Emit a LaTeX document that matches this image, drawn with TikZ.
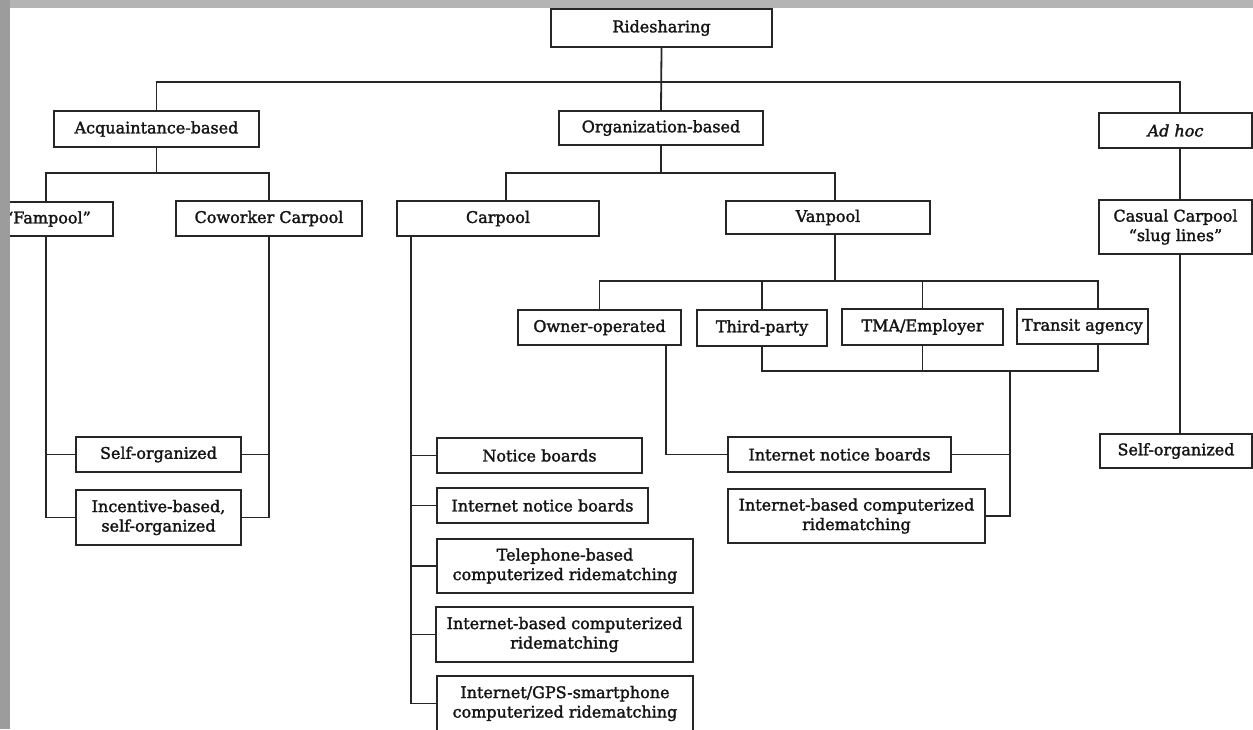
\documentclass[tikz,border=0pt]{standalone}
\usepackage{fontspec}
\setmainfont{DejaVu Serif}
\newfontfamily\labfont{DejaVu Serif}[FakeBold=1.8]
\usetikzlibrary{calc}
\definecolor{edge}{HTML}{262626}
\definecolor{ink}{HTML}{141414}
\definecolor{bandl}{HTML}{9C9C9C}
\definecolor{bandt}{HTML}{B4B4B4}
\tikzset{
  box/.style={draw=edge, line width=1.8pt, fill=white, inner sep=0pt, align=center,
    text=ink, font=\labfont\fontsize{16}{19.5}\selectfont},
  wire/.style={draw=edge, line width=1.8pt}
}
\newcommand{\bx}[6]{\node[box, minimum width=#4, minimum height=#5] (#1) at (#2,#3) {#6};}
\begin{document}
\begin{tikzpicture}[x=1pt,y=-1pt]
\useasboundingbox (0,0) rectangle (1253,729);
\clip (0,0) rectangle (1253,729);
\fill[white] (0,0) rectangle (1253,729);
\coordinate (busA) at (0,82);
\coordinate (busB) at (0,173);
\coordinate (busC) at (0,281);
\coordinate (busD) at (0,371);
\coordinate (jr) at (1010,371);
% boxes
\bx{ride}{661.5}{28}{221}{38}{Ridesharing}
\bx{acq}{156.5}{129}{205}{36}{Acquaintance-based}
\bx{org}{661}{128}{204}{34}{Organization-based}
\bx{adhoc}{1175.5}{130.5}{153}{35}{\itshape Ad hoc}
\bx{fam}{48}{219}{130}{34}{“Fampool”}
\bx{cow}{269}{218.5}{186}{35}{Coworker Carpool}
\bx{car}{498}{218.5}{202}{35}{Carpool}
\bx{van}{828}{217.5}{204}{33}{Vanpool}
\bx{cc}{1175.5}{227}{153}{54}{Casual Carpool\\“slug lines”}
\bx{own}{599.5}{327.5}{163}{35}{Owner-operated}
\bx{third}{762}{328}{130}{36}{Third-party}
\bx{tma}{922.5}{327}{161}{36}{TMA/Employer}
\bx{transit}{1082.5}{326.5}{131}{35}{Transit agency}
\bx{selfL}{158.5}{454.5}{165}{35}{Self-organized}
\bx{incL}{158.5}{517.5}{165}{55}{Incentive-based,\\self-organized}
\bx{nb}{539.5}{455.5}{205}{35}{Notice boards}
\bx{inb}{542.5}{505.5}{211}{35}{Internet notice boards}
\bx{tel}{565}{566}{256}{54}{Telephone-based\\computerized ridematching}
\bx{ibc}{564.5}{634.5}{257}{55}{Internet-based computerized\\ridematching}
\bx{gps}{565}{703.5}{256}{55}{Internet/GPS-smartphone\\computerized ridematching}
\bx{inbR}{839.5}{454.5}{223}{35}{Internet notice boards}
\bx{ibcR}{856.5}{516}{257}{54}{Internet-based computerized\\ridematching}
\bx{selfR}{1176}{451}{152}{34}{Self-organized}
% connectors: level 1
\draw[wire] (ride.south) -- (org.north);
\draw[wire] (acq.north) -- (acq.north |- busA) -- ([xshift=4.5pt]adhoc.north |- busA) -- ([xshift=4.5pt]adhoc.north);
% acquaintance
\draw[wire] (acq.south) -- (acq.south |- busB);
\draw[wire] ([xshift=-2pt]fam.north) -- ([xshift=-2pt]fam.north |- busB) -- (cow.north |- busB) -- (cow.north);
\draw[wire] ([xshift=-2pt]fam.south) |- (selfL.west);
\draw[wire] ([xshift=-2pt]fam.south) |- (incL.west);
\draw[wire] (cow.south) |- (selfL.east);
\draw[wire] (cow.south) |- (incL.east);
% organization
\draw[wire] (org.south) -- (org.south |- busB);
\draw[wire] ([xshift=8pt]car.north) -- ([xshift=8pt]car.north |- busB) -- ([xshift=7pt]van.north |- busB) -- ([xshift=7pt]van.north);
% carpool children
\draw[wire] ([xshift=15pt]car.south west) |- (gps.west);
\draw[wire] ([xshift=15pt]car.south west) |- (nb.west);
\draw[wire] ([xshift=15pt]car.south west) |- (inb.west);
\draw[wire] ([xshift=15pt]car.south west) |- (tel.west);
\draw[wire] ([xshift=15pt]car.south west) |- (ibc.west);
% vanpool
\draw[wire] ([xshift=7pt]van.south) -- ([xshift=7pt]van.south |- busC);
\draw[wire] (own.north) -- (own.north |- busC) -- ([xshift=15.5pt]transit.north |- busC) -- ([xshift=15.5pt]transit.north);
\draw[wire] (third.north) -- (third.north |- busC);
\draw[wire] (tma.north) -- (tma.north |- busC);
\draw[wire] (third.south) -- (third.south |- busD) -- ([xshift=15.5pt]transit.south |- busD) -- ([xshift=15.5pt]transit.south);
\draw[wire] (tma.south) -- (tma.south |- busD);
\draw[wire] (jr) |- (ibcR.east);
\draw[wire] (inbR.east) -- (inbR.east -| jr);
\draw[wire] ([xshift=66.5pt]own.south) |- (inbR.west);
% ad hoc
\draw[wire] ([xshift=4.5pt]adhoc.south) -- ([xshift=4.5pt]cc.north);
\draw[wire] ([xshift=4.5pt]cc.south) -- ([xshift=4pt]selfR.north);
% frame bands
\fill[bandt] (0,0) rectangle (1253,8);
\fill[bandl] (0,0) rectangle (9.5,729);
\end{tikzpicture}
\end{document}
